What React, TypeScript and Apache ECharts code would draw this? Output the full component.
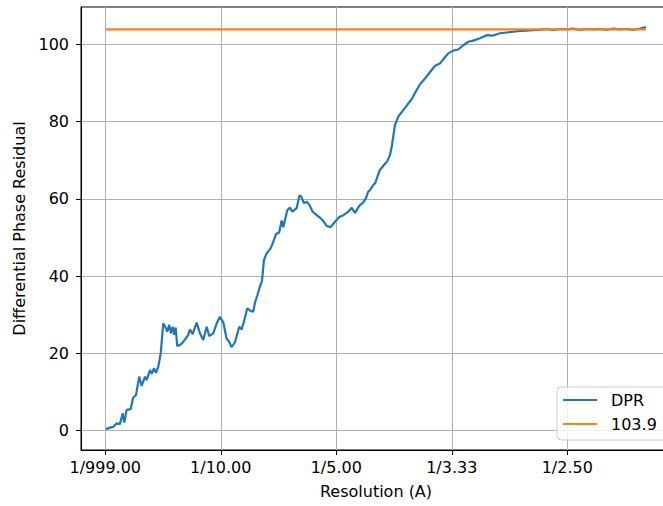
import React, { useEffect, useRef } from "react";
import * as echarts from "echarts";

// spatial frequency (1/A) and differential phase residual values
const freq = [
  0.0006, 0.0041, 0.0069, 0.0099, 0.0127, 0.0151, 0.0165, 0.0185, 0.022, 0.0242,
  0.0266, 0.0294, 0.0315, 0.0344, 0.0358, 0.0387, 0.0402, 0.0422, 0.0439, 0.0459,
  0.048, 0.0502, 0.0526, 0.0537, 0.0554, 0.0569, 0.0584, 0.0597, 0.061, 0.0623,
  0.0647, 0.0675, 0.0705, 0.0719, 0.0733, 0.0757, 0.0791, 0.082, 0.0848, 0.0878,
  0.09, 0.0935, 0.0965, 0.0993, 0.1022, 0.1051, 0.1074, 0.1094, 0.1123, 0.116,
  0.1181, 0.121, 0.1229, 0.1258, 0.1281, 0.1296, 0.1316, 0.1339, 0.1357, 0.1374,
  0.1397, 0.1432, 0.1461, 0.1478, 0.1506, 0.1527, 0.1541, 0.1576, 0.1599, 0.1619,
  0.1657, 0.168, 0.1694, 0.172, 0.1744, 0.1772, 0.1796, 0.183, 0.1857, 0.1882,
  0.1917, 0.1952, 0.1989, 0.2026, 0.2061, 0.2104, 0.2133, 0.2162, 0.2199, 0.2234,
  0.2257, 0.2277, 0.2292, 0.232, 0.2335, 0.2378, 0.2413, 0.2442, 0.2465, 0.248,
  0.2508, 0.2537, 0.258, 0.2623, 0.2653, 0.2696, 0.2725, 0.2768, 0.2797, 0.2826,
  0.2855, 0.2898, 0.2941, 0.297, 0.3013, 0.3056, 0.31, 0.3143, 0.3186, 0.3244,
  0.3302, 0.3359, 0.3417, 0.3475, 0.3532, 0.3591, 0.3648, 0.3703, 0.3764, 0.3824,
  0.3876, 0.3937, 0.3997, 0.4049, 0.411, 0.417, 0.4222, 0.4283, 0.4344, 0.4396,
  0.4456, 0.4517, 0.4569, 0.4629, 0.4681,
];

const dpr = [
  0.4, 0.8, 1.0, 1.9, 1.7, 4.5, 2.1, 5.4, 5.6, 8.6,
  9.2, 14.0, 11.6, 14.0, 13.1, 15.7, 14.7, 16.2, 15.0, 16.6,
  20.0, 27.8, 26.5, 25.6, 27.4, 25.2, 26.9, 24.8, 26.7, 21.9,
  22.2, 23.0, 24.2, 24.8, 26.2, 25.0, 28.0, 25.2, 23.5, 26.9,
  24.5, 25.2, 27.8, 29.5, 28.0, 23.8, 23.0, 21.6, 22.9, 26.9,
  26.2, 29.3, 31.7, 31.0, 30.8, 33.1, 35.0, 37.3, 38.8, 44.2,
  45.9, 47.2, 49.4, 50.9, 51.3, 54.4, 52.7, 57.1, 57.8, 56.7,
  57.6, 60.8, 60.8, 58.9, 59.3, 58.2, 56.7, 55.8, 55.2, 54.5,
  53.0, 52.7, 54.1, 55.3, 55.8, 56.7, 57.7, 56.4, 58.2, 59.1,
  60.2, 61.9, 62.3, 63.6, 64.0, 67.5, 68.8, 69.8, 71.4, 73.5,
  79.1, 81.3, 83.0, 84.7, 85.8, 88.2, 89.7, 91.2, 92.3, 93.4,
  94.5, 95.1, 96.7, 97.7, 98.4, 98.7, 99.8, 100.7, 101.0, 101.6,
  102.4, 102.3, 102.9, 103.1, 103.3, 103.5, 103.6, 103.7, 103.8, 104.0,
  103.8, 104.0, 103.9, 104.1, 103.8, 104.0, 103.9, 104.0, 103.8, 104.1,
  103.9, 104.0, 103.8, 104.1, 104.5,
];

const threshold = 103.9;

const xTickValues = [0, 0.1, 0.2, 0.3, 0.4];
const xTickLabels = ["1/999.00", "1/10.00", "1/5.00", "1/3.33", "1/2.50"];
const yTickValues = [0, 20, 40, 60, 80, 100];

const FONT = "DejaVu Sans";

export default function App() {
  const ref = useRef<HTMLDivElement>(null);

  useEffect(() => {
    if (!ref.current) return;
    const chart = echarts.init(ref.current, null, { renderer: "svg" });
    const labelFor = (v: number) => {
      const i = xTickValues.findIndex((t) => Math.abs(t - v) < 1e-9);
      return i >= 0 ? xTickLabels[i] : "";
    };
    chart.setOption({
      animation: false,
      backgroundColor: "#ffffff",
      textStyle: { fontFamily: FONT },
      grid: {
        left: 81,
        top: 7,
        right: 29,
        bottom: 56,
        show: true,
        borderColor: "#000",
        borderWidth: 1,
        backgroundColor: "transparent",
        containLabel: false,
        outerBoundsMode: "none",
      },
      legend: {
        orient: "vertical",
        left: 557,
        top: 387,
        icon: "rect",
        itemWidth: 34,
        itemHeight: 2,
        itemGap: 8,
        padding: [5, 10, 8, 6],
        backgroundColor: "rgba(255,255,255,0.8)",
        borderColor: "#cccccc",
        borderWidth: 1,
        borderRadius: 4,
        textStyle: {
          fontFamily: FONT,
          fontSize: 16,
          lineHeight: 16,
          color: "#000",
          padding: [0, 0, 0, 9],
        },
        data: ["DPR", String(threshold)],
      },
      xAxis: {
        type: "value",
        min: -0.021,
        max: 0.4898,
        name: "Resolution (A)",
        nameLocation: "middle",
        nameGap: 33,
        nameTextStyle: { fontFamily: FONT, fontSize: 16, color: "#000" },
        axisLine: { show: true, onZero: false, lineStyle: { color: "#000", width: 1 } },
        axisTick: {
          show: true,
          length: 5,
          lineStyle: { color: "#000", width: 1 },
          customValues: xTickValues,
        },
        axisLabel: {
          customValues: xTickValues,
          formatter: (v: number) => labelFor(v),
          fontFamily: FONT,
          fontSize: 16,
          color: "#000",
          margin: 9,
        },
        splitLine: { show: true, lineStyle: { color: "#b0b0b0", width: 1 } },
      },
      yAxis: {
        type: "value",
        min: -5.0,
        max: 109.7,
        name: "Differential Phase Residual",
        nameLocation: "middle",
        nameGap: 53,
        nameTextStyle: { fontFamily: FONT, fontSize: 16, color: "#000" },
        axisLine: { show: true, onZero: false, lineStyle: { color: "#000", width: 1 } },
        axisTick: {
          show: true,
          length: 5,
          lineStyle: { color: "#000", width: 1 },
          customValues: yTickValues,
        },
        axisLabel: {
          customValues: yTickValues,
          fontFamily: FONT,
          fontSize: 16,
          color: "#000",
          margin: 12,
        },
        splitLine: { show: true, lineStyle: { color: "#b0b0b0", width: 1 } },
      },
      series: [
        {
          name: "DPR",
          type: "line",
          data: freq.map((f, i) => [f, dpr[i]]),
          showSymbol: false,
          symbol: "none",
          lineStyle: { color: "#1f77b4", width: 2.2 },
          itemStyle: { color: "#1f77b4" },
        },
        {
          name: String(threshold),
          type: "line",
          data: [
            [freq[0], threshold],
            [freq[freq.length - 1], threshold],
          ],
          showSymbol: false,
          symbol: "none",
          lineStyle: { color: "#ff7f0e", width: 2.2 },
          itemStyle: { color: "#ff7f0e" },
        },
      ],
    });
    return () => chart.dispose();
  }, []);

  return (
    <div
      style={{
        position: "fixed",
        left: 0,
        top: 0,
        width: 663,
        height: 506,
        overflow: "hidden",
        background: "#fff",
      }}
    >
      <div ref={ref} style={{ width: 700, height: 506 }} />
    </div>
  );
}
